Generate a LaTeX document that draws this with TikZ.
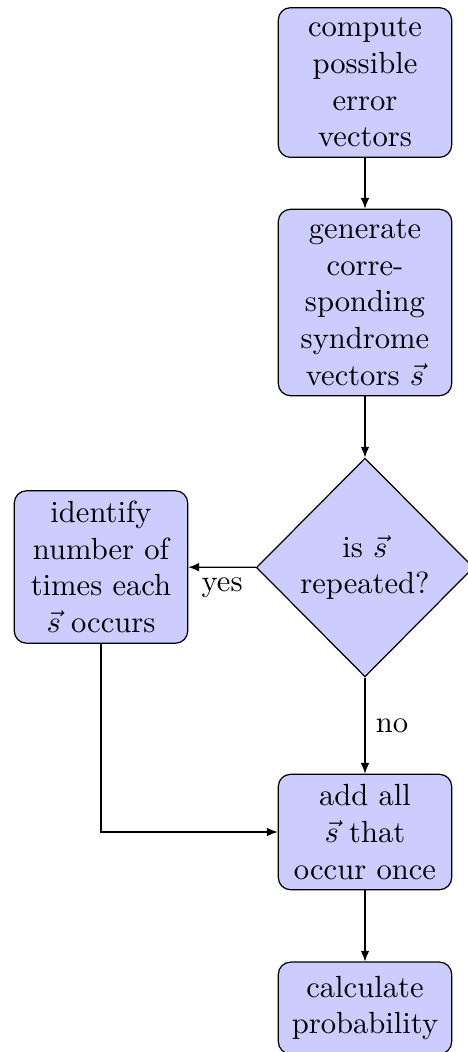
\documentclass[tikz,border=0pt]{standalone}
\usetikzlibrary{shapes.geometric,arrows.meta}
\begin{document}
\begin{tikzpicture}[x=0.3268pt,y=-0.3268pt,
  block/.style={rectangle, draw, fill=blue!20, text width=5em, align=center, rounded corners, inner sep=3.33pt},
  decision/.style={diamond, draw, fill=blue!20, text width=4.5em, align=center, inner sep=0pt, minimum width=71pt, minimum height=71.5pt},
  conn/.style={draw, -{Latex[length=3.5pt,width=2.8pt]}}]
\useasboundingbox (0,0) rectangle (468,1052);
\node[block] (b1) at (365,82.5) {compute\\possible\\error\\vectors};
\node[block] (b2) at (365,302.5) {generate\\corre-\\sponding\\syndrome\\vectors $\vec{s}$};
\node[decision] (d) at (365,567.5) {is $\vec{s}$\\repeated?};
\node[block] (l) at (101,567) {identify\\number of\\times each\\$\vec{s}$ occurs};
\node[block] (b4) at (365,832) {add all\\$\vec{s}$ that\\occur once};
\node[block, minimum height=30pt] (b5) at (365,1008) {calculate\\probability};
\draw[conn] (b1) -- (b2);
\draw[conn] (b2) -- (d);
\draw[conn] (d) -- node[below] {yes} (l);
\draw[conn] (d) -- node[right] {no} (b4);
\draw[conn] (l) |- (b4);
\draw[conn] (b4) -- (b5);
\end{tikzpicture}
\end{document}
